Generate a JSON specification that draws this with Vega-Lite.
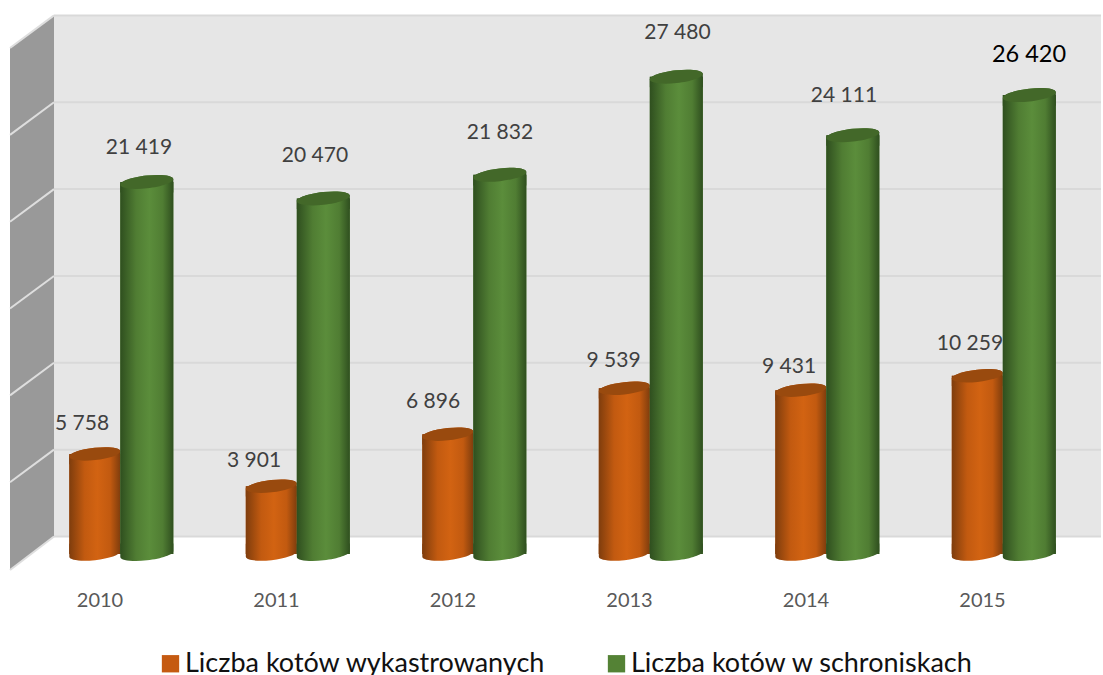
{"$schema":"https://vega.github.io/schema/vega-lite/v6.json","width":1103,"height":575,"padding":0,"autosize":{"type":"pad"},"background":"white","config":{"view":{"stroke":null},"text":{"font":"Lato","fontSize":21,"fill":"#404040","align":"center","baseline":"middle"}},
"data":{"values":[
{"year":2010,"series":"Liczba kotów wykastrowanych","value":5758,"label":"5 758"},{"year":2011,"series":"Liczba kotów wykastrowanych","value":3901,"label":"3 901"},{"year":2012,"series":"Liczba kotów wykastrowanych","value":6896,"label":"6 896"},{"year":2013,"series":"Liczba kotów wykastrowanych","value":9539,"label":"9 539"},{"year":2014,"series":"Liczba kotów wykastrowanych","value":9431,"label":"9 431"},{"year":2015,"series":"Liczba kotów wykastrowanych","value":10259,"label":"10 259"},
{"year":2010,"series":"Liczba kotów w schroniskach","value":21419,"label":"21 419"},{"year":2011,"series":"Liczba kotów w schroniskach","value":20470,"label":"20 470"},{"year":2012,"series":"Liczba kotów w schroniskach","value":21832,"label":"21 832"},{"year":2013,"series":"Liczba kotów w schroniskach","value":27480,"label":"27 480"},{"year":2014,"series":"Liczba kotów w schroniskach","value":24111,"label":"24 111"},{"year":2015,"series":"Liczba kotów w schroniskach","value":26420,"label":"26 420"}]},
"encoding":{"x":{"field":"year","type":"quantitative","scale":{"domain":[2009.3144,2015.5637],"nice":false,"zero":false,"padding":0},"axis":{"values":[2010,2011,2012,2013,2014,2015],"format":"d","title":null,"domain":false,"ticks":false,"grid":false,"labelFont":"Lato","labelFontSize":20,"labelColor":"#595959","labelOffset":-21.5,"labelPadding":15}},
"y":{"field":"value","type":"quantitative","stack":null,"scale":{"domain":[-1209,31894],"nice":false,"zero":false,"padding":0},"axis":null}},
"layer":[
{"data":{"values":[{"x":2009.6204,"x2":2015.5524,"lo":0,"hi":30000}]},"mark":{"type":"rect","fill":"#e6e6e6","yOffset":-17.5,"y2Offset":-17.5},"encoding":{"x":{"field":"x","type":"quantitative","scale":{"domain":[2009.3144,2015.5637],"nice":false,"zero":false,"padding":0}},"x2":{"field":"x2"},"y":{"field":"lo","type":"quantitative"},"y2":{"field":"hi"}}},
{"data":{"values":[{"x":2009.6204,"x2":2015.5524,"g":0},{"x":2009.6204,"x2":2015.5524,"g":5000},{"x":2009.6204,"x2":2015.5524,"g":10000},{"x":2009.6204,"x2":2015.5524,"g":15000},{"x":2009.6204,"x2":2015.5524,"g":20000},{"x":2009.6204,"x2":2015.5524,"g":25000},{"x":2009.6204,"x2":2015.5524,"g":30000}]},"mark":{"type":"rule","stroke":"#d9d9d9","strokeWidth":2,"yOffset":-17.5},"encoding":{"x":{"field":"x","type":"quantitative","scale":{"domain":[2009.3144,2015.5637],"nice":false,"zero":false,"padding":0}},"x2":{"field":"x2"},"y":{"field":"g","type":"quantitative"}}},
{"data":{"values":[{"x":2009.3711,"hi":28123,"lo":-1929},{"x":2009.6204,"hi":30000,"lo":0}]},"mark":{"type":"area","fill":"#999999","yOffset":-17.5,"y2Offset":-17.5,"orient":"vertical"},"encoding":{"x":{"field":"x","type":"quantitative","scale":{"domain":[2009.3144,2015.5637],"nice":false,"zero":false,"padding":0}},"y":{"field":"lo","type":"quantitative"},"y2":{"field":"hi"}}},
{"data":{"values":[{"x":2009.3711,"x2":2009.6204,"g":0,"g2":-1929},{"x":2009.3711,"x2":2009.6204,"g":5000,"g2":3123},{"x":2009.3711,"x2":2009.6204,"g":10000,"g2":8123},{"x":2009.3711,"x2":2009.6204,"g":15000,"g2":13123},{"x":2009.3711,"x2":2009.6204,"g":20000,"g2":18123},{"x":2009.3711,"x2":2009.6204,"g":25000,"g2":23123},{"x":2009.3711,"x2":2009.6204,"g":30000,"g2":28123}]},"mark":{"type":"rule","stroke":"#dedede","strokeWidth":2,"yOffset":-17.5,"y2Offset":-17.5},"encoding":{"x":{"field":"x","type":"quantitative","scale":{"domain":[2009.3144,2015.5637],"nice":false,"zero":false,"padding":0}},"x2":{"field":"x2"},"y":{"field":"g2","type":"quantitative"},"y2":{"field":"g"}}},

{"transform":[{"filter":"datum.series == 'Liczba kotów wykastrowanych'"}],"mark":{"type":"bar","size":51,"xOffset":-26.2,"orient":"vertical"},"encoding":{"y2":{"datum":0},"color":{"field":"series","type":"nominal","scale":{"domain":["Liczba kotów wykastrowanych","Liczba kotów w schroniskach"],"range":["#c55a11","#548235"]},"legend":{"title":null,"orient":"none","legendX":157,"legendY":650,"direction":"horizontal","columns":2,"symbolType":"square","symbolSize":300,"symbolStrokeWidth":0,"symbolOpacity":1,"labelFont":"Lato","labelFontSize":27,"labelColor":"#111111","labelLimit":500,"labelOffset":1,"columnPadding":57,"padding":0}}}},
{"transform":[{"filter":"datum.series == 'Liczba kotów wykastrowanych'"}],"mark":{"type":"bar","size":51,"xOffset":-26.2,"orient":"vertical","fill":{"gradient":"linear","x1":0,"x2":1,"y1":0,"y2":0,"stops":[{"offset":0,"color":"#7f3d0d"},{"offset":0.3,"color":"#c25a10"},{"offset":0.55,"color":"#d26312"},{"offset":0.8,"color":"#c25a10"},{"offset":1,"color":"#7f3d0d"}]}},"encoding":{"y2":{"datum":0}}},
{"transform":[{"filter":"datum.series == 'Liczba kotów wykastrowanych'"}],"mark":{"type":"point","filled":true,"opacity":1,"size":2601,"xOffset":-26.2,"shape":"M-1,-0.4 L1,-0.4 L1,-0.11 A1.005,0.24 -6.5 1 1 -1,0.11 Z","fill":{"gradient":"linear","x1":0,"x2":1,"y1":0,"y2":0,"stops":[{"offset":0,"color":"#7f3d0d"},{"offset":0.3,"color":"#c25a10"},{"offset":0.55,"color":"#d26312"},{"offset":0.8,"color":"#c25a10"},{"offset":1,"color":"#7f3d0d"}]}},"encoding":{"y":{"datum":0}}},
{"transform":[{"filter":"datum.series == 'Liczba kotów wykastrowanych'"}],"mark":{"type":"point","filled":true,"opacity":1,"size":2601,"xOffset":-26.2,"shape":"M-1,0.4 L-1,0.11 A1.005,0.24 -6.5 1 1 1,-0.11 L1,0.4 Z","fill":{"gradient":"linear","x1":0,"x2":1,"y1":0,"y2":0,"stops":[{"offset":0,"color":"#7f3d0d"},{"offset":0.3,"color":"#c25a10"},{"offset":0.55,"color":"#d26312"},{"offset":0.8,"color":"#c25a10"},{"offset":1,"color":"#7f3d0d"}]}}},
{"transform":[{"filter":"datum.series == 'Liczba kotów wykastrowanych'"}],"mark":{"type":"point","filled":true,"opacity":1,"size":2601,"xOffset":-26.2,"shape":"M-1,0.11 A1.005,0.24 -6.5 1 1 1,-0.11 A1.005,0.24 -6.5 1 1 -1,0.11 Z","fill":"#994a0e"}},

{"transform":[{"filter":"datum.series == 'Liczba kotów w schroniskach'"}],"mark":{"type":"bar","size":53,"xOffset":25.8,"orient":"vertical"},"encoding":{"y2":{"datum":0},"color":{"field":"series","type":"nominal"}}},
{"transform":[{"filter":"datum.series == 'Liczba kotów w schroniskach'"}],"mark":{"type":"bar","size":53,"xOffset":25.8,"orient":"vertical","fill":{"gradient":"linear","x1":0,"x2":1,"y1":0,"y2":0,"stops":[{"offset":0,"color":"#2f4f1f"},{"offset":0.3,"color":"#507d33"},{"offset":0.55,"color":"#5b8d3b"},{"offset":0.8,"color":"#507d33"},{"offset":1,"color":"#2f4f1f"}]}},"encoding":{"y2":{"datum":0}}},
{"transform":[{"filter":"datum.series == 'Liczba kotów w schroniskach'"}],"mark":{"type":"point","filled":true,"opacity":1,"size":2809,"xOffset":25.8,"shape":"M-1,-0.4 L1,-0.4 L1,-0.11 A1.005,0.24 -6.5 1 1 -1,0.11 Z","fill":{"gradient":"linear","x1":0,"x2":1,"y1":0,"y2":0,"stops":[{"offset":0,"color":"#2f4f1f"},{"offset":0.3,"color":"#507d33"},{"offset":0.55,"color":"#5b8d3b"},{"offset":0.8,"color":"#507d33"},{"offset":1,"color":"#2f4f1f"}]}},"encoding":{"y":{"datum":0}}},
{"transform":[{"filter":"datum.series == 'Liczba kotów w schroniskach'"}],"mark":{"type":"point","filled":true,"opacity":1,"size":2809,"xOffset":25.8,"shape":"M-1,0.4 L-1,0.11 A1.005,0.24 -6.5 1 1 1,-0.11 L1,0.4 Z","fill":{"gradient":"linear","x1":0,"x2":1,"y1":0,"y2":0,"stops":[{"offset":0,"color":"#2f4f1f"},{"offset":0.3,"color":"#507d33"},{"offset":0.55,"color":"#5b8d3b"},{"offset":0.8,"color":"#507d33"},{"offset":1,"color":"#2f4f1f"}]}}},
{"transform":[{"filter":"datum.series == 'Liczba kotów w schroniskach'"}],"mark":{"type":"point","filled":true,"opacity":1,"size":2809,"xOffset":25.8,"shape":"M-1,0.11 A1.005,0.24 -6.5 1 1 1,-0.11 A1.005,0.24 -6.5 1 1 -1,0.11 Z","fill":"#436829"}},

{"transform":[{"filter":"datum.label == '5 758'"}],"mark":{"type":"text","dx":-39,"dy":-29.5},"encoding":{"text":{"field":"label"}}},
{"transform":[{"filter":"datum.label == '3 901'"}],"mark":{"type":"text","dx":-43.5,"dy":-25.7},"encoding":{"text":{"field":"label"}}},
{"transform":[{"filter":"datum.label == '6 896'"}],"mark":{"type":"text","dx":-41,"dy":-32.7},"encoding":{"text":{"field":"label"}}},
{"transform":[{"filter":"datum.label == '9 539'"}],"mark":{"type":"text","dx":-37,"dy":-27.8},"encoding":{"text":{"field":"label"}}},
{"transform":[{"filter":"datum.label == '9 431'"}],"mark":{"type":"text","dx":-38,"dy":-22.7},"encoding":{"text":{"field":"label"}}},
{"transform":[{"filter":"datum.label == '10 259'"}],"mark":{"type":"text","dx":-33.5,"dy":-32.3},"encoding":{"text":{"field":"label"}}},
{"transform":[{"filter":"datum.label == '21 419'"}],"mark":{"type":"text","dx":18,"dy":-33.5},"encoding":{"text":{"field":"label"}}},
{"transform":[{"filter":"datum.label == '20 470'"}],"mark":{"type":"text","dx":17.5,"dy":-42.9},"encoding":{"text":{"field":"label"}}},
{"transform":[{"filter":"datum.label == '21 832'"}],"mark":{"type":"text","dx":26,"dy":-41.3},"encoding":{"text":{"field":"label"}}},
{"transform":[{"filter":"datum.label == '27 480'"}],"mark":{"type":"text","dx":27,"dy":-43.2},"encoding":{"text":{"field":"label"}}},
{"transform":[{"filter":"datum.label == '24 111'"}],"mark":{"type":"text","dx":17,"dy":-38.7},"encoding":{"text":{"field":"label"}}},
{"transform":[{"filter":"datum.label == '26 420'"}],"mark":{"type":"text","dx":25.5,"dy":-39.6,"fontSize":23.5,"fill":"#000000"},"encoding":{"text":{"field":"label"}}}
]}
